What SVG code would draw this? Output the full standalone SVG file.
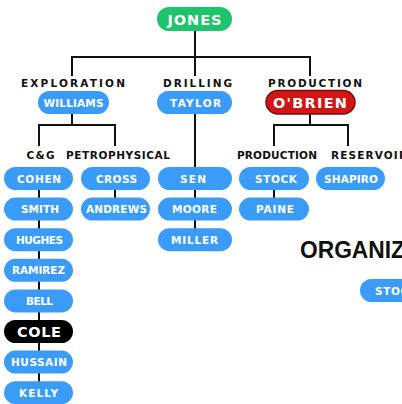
<svg xmlns="http://www.w3.org/2000/svg" width="402" height="404" viewBox="0 0 402 404">
<style>
.bg{fill:#ffffff}
.pill{fill:#3a9cf8}
.green{fill:#1ec46b}
.red{fill:#d01616;stroke:#7e0a0a;stroke-width:1.5}
.black{fill:#000000}
.pt{font-family:"DejaVu Sans",sans-serif;font-weight:bold;font-size:10.5px;fill:#ffffff;text-anchor:middle}
.big{font-family:"DejaVu Sans",sans-serif;font-weight:bold;font-size:14.5px;fill:#ffffff;text-anchor:middle}
.lbl{font-family:"DejaVu Sans",sans-serif;font-weight:bold;font-size:10.5px;fill:#111111;text-anchor:middle}
.conn{fill:none;stroke:#111111;stroke-width:2}
.title{font-family:"Liberation Sans",sans-serif;font-weight:bold;font-size:24px;fill:#111111}
</style>
<rect class="bg" x="0" y="0" width="402" height="404"/>
<g id="connectors">
<path class="conn" d="M195,31 V76 M72,57 H310 M72,56 V76 M310,56 V76"/>
<path class="conn" d="M72,114 V125 M38,125 H116 M39,124 V146 M115,124 V146"/>
<path class="conn" d="M310,114 V125 M273,125 H349 M274,124 V146 M348,124 V146"/>
<path class="conn" d="M195,114 V240"/>
<path class="conn" d="M39,190 V382"/>
<path class="conn" d="M115,190 V200"/>
<path class="conn" d="M274,190 V200"/>
</g>
<g id="labels">
<text class="lbl" x="73" y="87" textLength="104" lengthAdjust="spacing">EXPLORATION</text>
<text class="lbl" x="197.5" y="87" textLength="69" lengthAdjust="spacing">DRILLING</text>
<text class="lbl" x="315" y="87" textLength="94" lengthAdjust="spacing">PRODUCTION</text>
<text class="lbl" x="40.5" y="159" textLength="28" lengthAdjust="spacing">C&amp;G</text>
<text class="lbl" x="118" y="159" textLength="104" lengthAdjust="spacing">PETROPHYSICAL</text>
<text class="lbl" x="277" y="159" textLength="80" lengthAdjust="spacing">PRODUCTION</text>
<text class="lbl" x="331" y="159" style="text-anchor:start" textLength="76" lengthAdjust="spacing">RESERVOIR</text>
</g>
<g id="jones"><rect class="green" x="157" y="7" width="75" height="24" rx="12"/><text class="big" x="194.5" y="24.5" textLength="54" lengthAdjust="spacing">JONES</text></g>
<g id="williams"><rect class="pill" x="38" y="91" width="71" height="23" rx="11.5"/><text class="pt" x="73.5" y="106.5" textLength="60" lengthAdjust="spacing">WILLIAMS</text></g>
<g id="taylor"><rect class="pill" x="157" y="91" width="75" height="23" rx="11.5"/><text class="pt" x="195.5" y="106.5" textLength="51" lengthAdjust="spacing">TAYLOR</text></g>
<g id="obrien"><rect class="red" x="266" y="90.5" width="89" height="23.5" rx="11.75"/><text class="big" x="310" y="107.5" textLength="74" lengthAdjust="spacing">O'BRIEN</text></g>
<g id="cohen"><rect class="pill" x="4" y="167" width="69" height="23" rx="11.5"/><text class="pt" x="39" y="182.5" textLength="44" lengthAdjust="spacing">COHEN</text></g>
<g id="smith"><rect class="pill" x="4" y="197.6" width="69" height="23" rx="11.5"/><text class="pt" x="40" y="213.1" textLength="38" lengthAdjust="spacing">SMITH</text></g>
<g id="hughes"><rect class="pill" x="4" y="228.2" width="69" height="23" rx="11.5"/><text class="pt" x="39.5" y="243.7" textLength="47" lengthAdjust="spacing">HUGHES</text></g>
<g id="ramirez"><rect class="pill" x="4" y="258.8" width="69" height="23" rx="11.5"/><text class="pt" x="38.5" y="274.3" textLength="53" lengthAdjust="spacing">RAMIREZ</text></g>
<g id="bell"><rect class="pill" x="4" y="289.4" width="69" height="23" rx="11.5"/><text class="pt" x="39.5" y="304.9" textLength="27" lengthAdjust="spacing">BELL</text></g>
<g id="cole"><rect class="black" x="4" y="320" width="69" height="23" rx="11.5"/><text class="big" x="39" y="336.8" textLength="44" lengthAdjust="spacing">COLE</text></g>
<g id="hussain"><rect class="pill" x="4" y="350.6" width="69" height="23" rx="11.5"/><text class="pt" x="39" y="366.1" textLength="56" lengthAdjust="spacing">HUSSAIN</text></g>
<g id="kelly"><rect class="pill" x="4" y="381.2" width="69" height="23" rx="11.5"/><text class="pt" x="38.5" y="396.7" textLength="39" lengthAdjust="spacing">KELLY</text></g>
<g id="cross"><rect class="pill" x="81" y="167" width="69" height="23" rx="11.5"/><text class="pt" x="116.5" y="182.5" textLength="41" lengthAdjust="spacing">CROSS</text></g>
<g id="andrews"><rect class="pill" x="81" y="197.6" width="69" height="23" rx="11.5"/><text class="pt" x="116.5" y="213.1" textLength="61" lengthAdjust="spacing">ANDREWS</text></g>
<g id="sen"><rect class="pill" x="158" y="167" width="74" height="23" rx="11.5"/><text class="pt" x="193" y="182.5" textLength="26" lengthAdjust="spacing">SEN</text></g>
<g id="moore"><rect class="pill" x="158" y="197.6" width="74" height="23" rx="11.5"/><text class="pt" x="194.5" y="213.1" textLength="45" lengthAdjust="spacing">MOORE</text></g>
<g id="miller"><rect class="pill" x="158" y="228.2" width="74" height="23" rx="11.5"/><text class="pt" x="194.5" y="243.7" textLength="47" lengthAdjust="spacing">MILLER</text></g>
<g id="stock"><rect class="pill" x="239" y="167" width="70" height="23" rx="11.5"/><text class="pt" x="276" y="182.5" textLength="42" lengthAdjust="spacing">STOCK</text></g>
<g id="paine"><rect class="pill" x="239" y="197.6" width="70" height="23" rx="11.5"/><text class="pt" x="275" y="213.1" textLength="38" lengthAdjust="spacing">PAINE</text></g>
<g id="shapiro"><rect class="pill" x="316" y="167" width="69" height="23" rx="11.5"/><text class="pt" x="351" y="182.5" textLength="54" lengthAdjust="spacing">SHAPIRO</text></g>
<g id="title"><text class="title" x="300" y="258" textLength="105" lengthAdjust="spacingAndGlyphs">ORGANIZ</text></g>
<g id="stock2"><rect class="pill" x="360" y="279" width="70" height="23" rx="11.5"/><text class="pt" x="375" y="294.5" style="text-anchor:start" textLength="42" lengthAdjust="spacing">STOCK</text></g>
</svg>
